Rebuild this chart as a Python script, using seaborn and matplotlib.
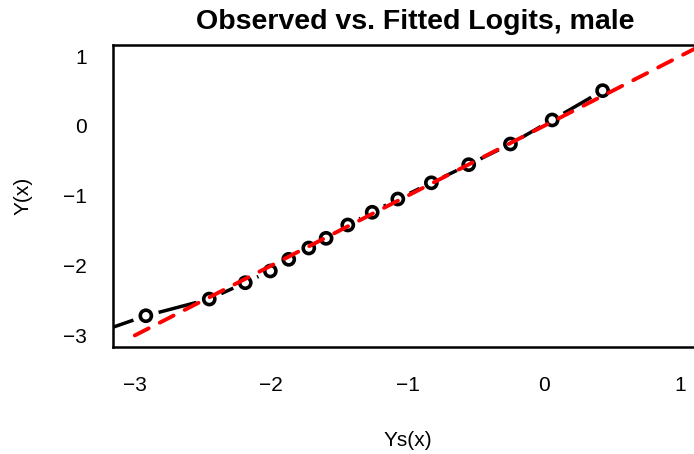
import matplotlib
matplotlib.use("Agg")
import matplotlib.pyplot as plt
import seaborn as sns
import numpy as np
import pandas as pd

# Observed logits by smoothed score, male sample
ys_obs = [-3.45, -2.919, -2.454, -2.190, -2.006, -1.871, -1.724, -1.597,
          -1.438, -1.259, -1.071, -0.825, -0.551, -0.245, 0.061, 0.431]
y_obs = [-3.08, -2.718, -2.479, -2.245, -2.077, -1.910, -1.748, -1.609,
         -1.418, -1.236, -1.046, -0.814, -0.554, -0.258, 0.086, 0.506]

# Fitted logits (identity on the logit scale)
ys_fit = [-3.0, 1.25]
y_fit = [-3.0, 1.25]

x_ticks = [-3, -2, -1, 0, 1]
y_ticks = [-3, -2, -1, 0, 1]
tick_text = ["\u22123", "\u22122", "\u22121", "0", "1"]

sns.set_style("white")
plt.rcParams["font.family"] = ["Liberation Sans", "DejaVu Sans"]
plt.rcParams["text.color"] = "black"
plt.rcParams["axes.labelcolor"] = "black"
plt.rcParams["xtick.color"] = "black"
plt.rcParams["ytick.color"] = "black"

obs = pd.DataFrame({"Ys": ys_obs, "Y": y_obs})
fit = pd.DataFrame({"Ys": ys_fit, "Y": y_fit})

W, H = 694, 454
fig = plt.figure(figsize=(W / 100, H / 100), dpi=100)
ax = fig.add_axes([113 / W, 107.4 / H, (702 - 113) / W, (409 - 107.4) / H])

# observed curve, drawn solid; gaps around each point are cut out below
sns.lineplot(data=obs, x="Ys", y="Y", sort=False, color="black",
             linewidth=2.5, ax=ax, zorder=2)
sns.scatterplot(data=obs, x="Ys", y="Y", s=19 ** 2, color="white",
                edgecolor="none", linewidth=0, ax=ax, zorder=3)
sns.scatterplot(data=obs, x="Ys", y="Y", s=8 ** 2, facecolor="none",
                edgecolor="black", linewidth=2.6, ax=ax, zorder=4)

# fitted line
sns.lineplot(data=fit, x="Ys", y="Y", color="#ff0000", linewidth=2.8,
             dashes=False, ax=ax, zorder=5)
ax.lines[-1].set_dashes((4, 3.2))
ax.lines[-1].set_dash_capstyle("round")

ax.set_xlim(-3.16, 1.16)
ax.set_ylim(-3.16, 1.16)
ax.set_xticks(x_ticks)
ax.set_yticks(y_ticks)
ax.set_xticklabels(tick_text)
ax.set_yticklabels(tick_text)

for sp in ax.spines.values():
    sp.set_linewidth(1.8)
    sp.set_color("black")
ax.tick_params(axis="both", direction="out", length=9, width=1.8,
               labelsize=15, color="black", labelcolor="black")
ax.tick_params(axis="x", pad=12)
ax.tick_params(axis="y", pad=10)

ax.set_xlabel("Ys(x)", fontsize=15, labelpad=26)
ax.set_ylabel("Y(x)", fontsize=15, labelpad=22)
fig.text(415 / W, 1 - 22 / H, "Observed vs. Fitted Logits, male",
         ha="center", va="center", fontsize=20.5, fontweight="bold")

fig.savefig("out.png", dpi=100)
